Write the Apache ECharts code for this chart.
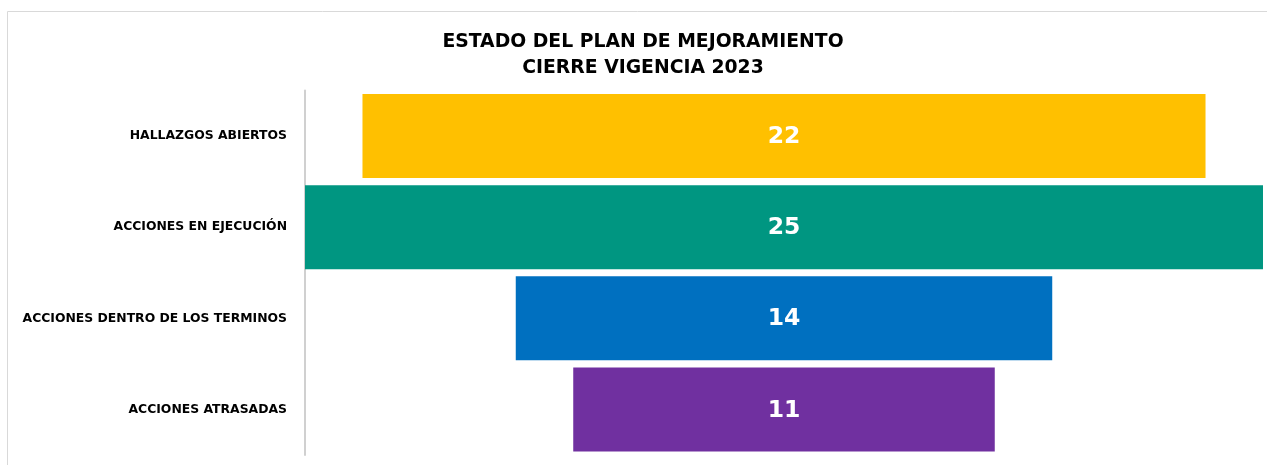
<!DOCTYPE html>
<html><head><meta charset="utf-8">
<script src="https://cdn.jsdelivr.net/npm/echarts@6/dist/echarts.min.js"></script>
<style>html,body{margin:0;padding:0;background:#fff}#c{width:1267px;height:465px}</style>
</head><body><div id="c"></div>
<script>
const categories = ['HALLAZGOS ABIERTOS','ACCIONES EN EJECUCIÓN','ACCIONES DENTRO DE LOS TERMINOS','ACCIONES ATRASADAS'];
const values = [22, 25, 14, 11];
const colors = ['#FFC000','#009681','#0070C0','#7030A0'];
const titleLines = ['ESTADO DEL PLAN DE MEJORAMIENTO','CIERRE VIGENCIA 2023'];

const maxV = Math.max(...values);
const offsets = values.map(v => (maxV - v) / 2);
const chart = echarts.init(document.getElementById('c'));
chart.setOption({
  animation: false,
  title: {
    text: titleLines.join('\n'), left: 638, top: 24, textAlign: 'center',
    textStyle: {fontFamily: 'DejaVu Sans', fontWeight: 'bold', fontSize: 18.8, lineHeight: 26, color: '#000'}
  },
  graphic: [{type: 'rect', shape: {x: 7.5, y: 11.5, width: 1300, height: 500}, style: {fill: 'none', stroke: '#d9d9d9', lineWidth: 1}, silent: true}],
  grid: {left: 305, right: 4, top: 90.5, bottom: 10, containLabel: false},
  xAxis: {type: 'value', min: 0, max: maxV, show: false},
  yAxis: {
    type: 'category', inverse: true, data: categories,
    axisLine: {show: true, lineStyle: {color: '#d0d0d0', width: 2}},
    axisTick: {show: false},
    axisLabel: {margin: 18, color: '#000', fontFamily: 'DejaVu Sans', fontWeight: 'bold', fontSize: 12.4}
  },
  series: [
    {type: 'bar', stack: 's', data: offsets, itemStyle: {color: 'transparent'}, barCategoryGap: '7.7%', silent: true},
    {type: 'bar', stack: 's', barCategoryGap: '7.7%',
     data: values.map((v, i) => ({value: v, itemStyle: {color: colors[i]}})),
     label: {show: true, position: 'inside', offset: [0, 1], color: '#fff', fontFamily: 'DejaVu Sans', fontWeight: 'bold', fontSize: 23.5}}
  ]
});
</script></body></html>
